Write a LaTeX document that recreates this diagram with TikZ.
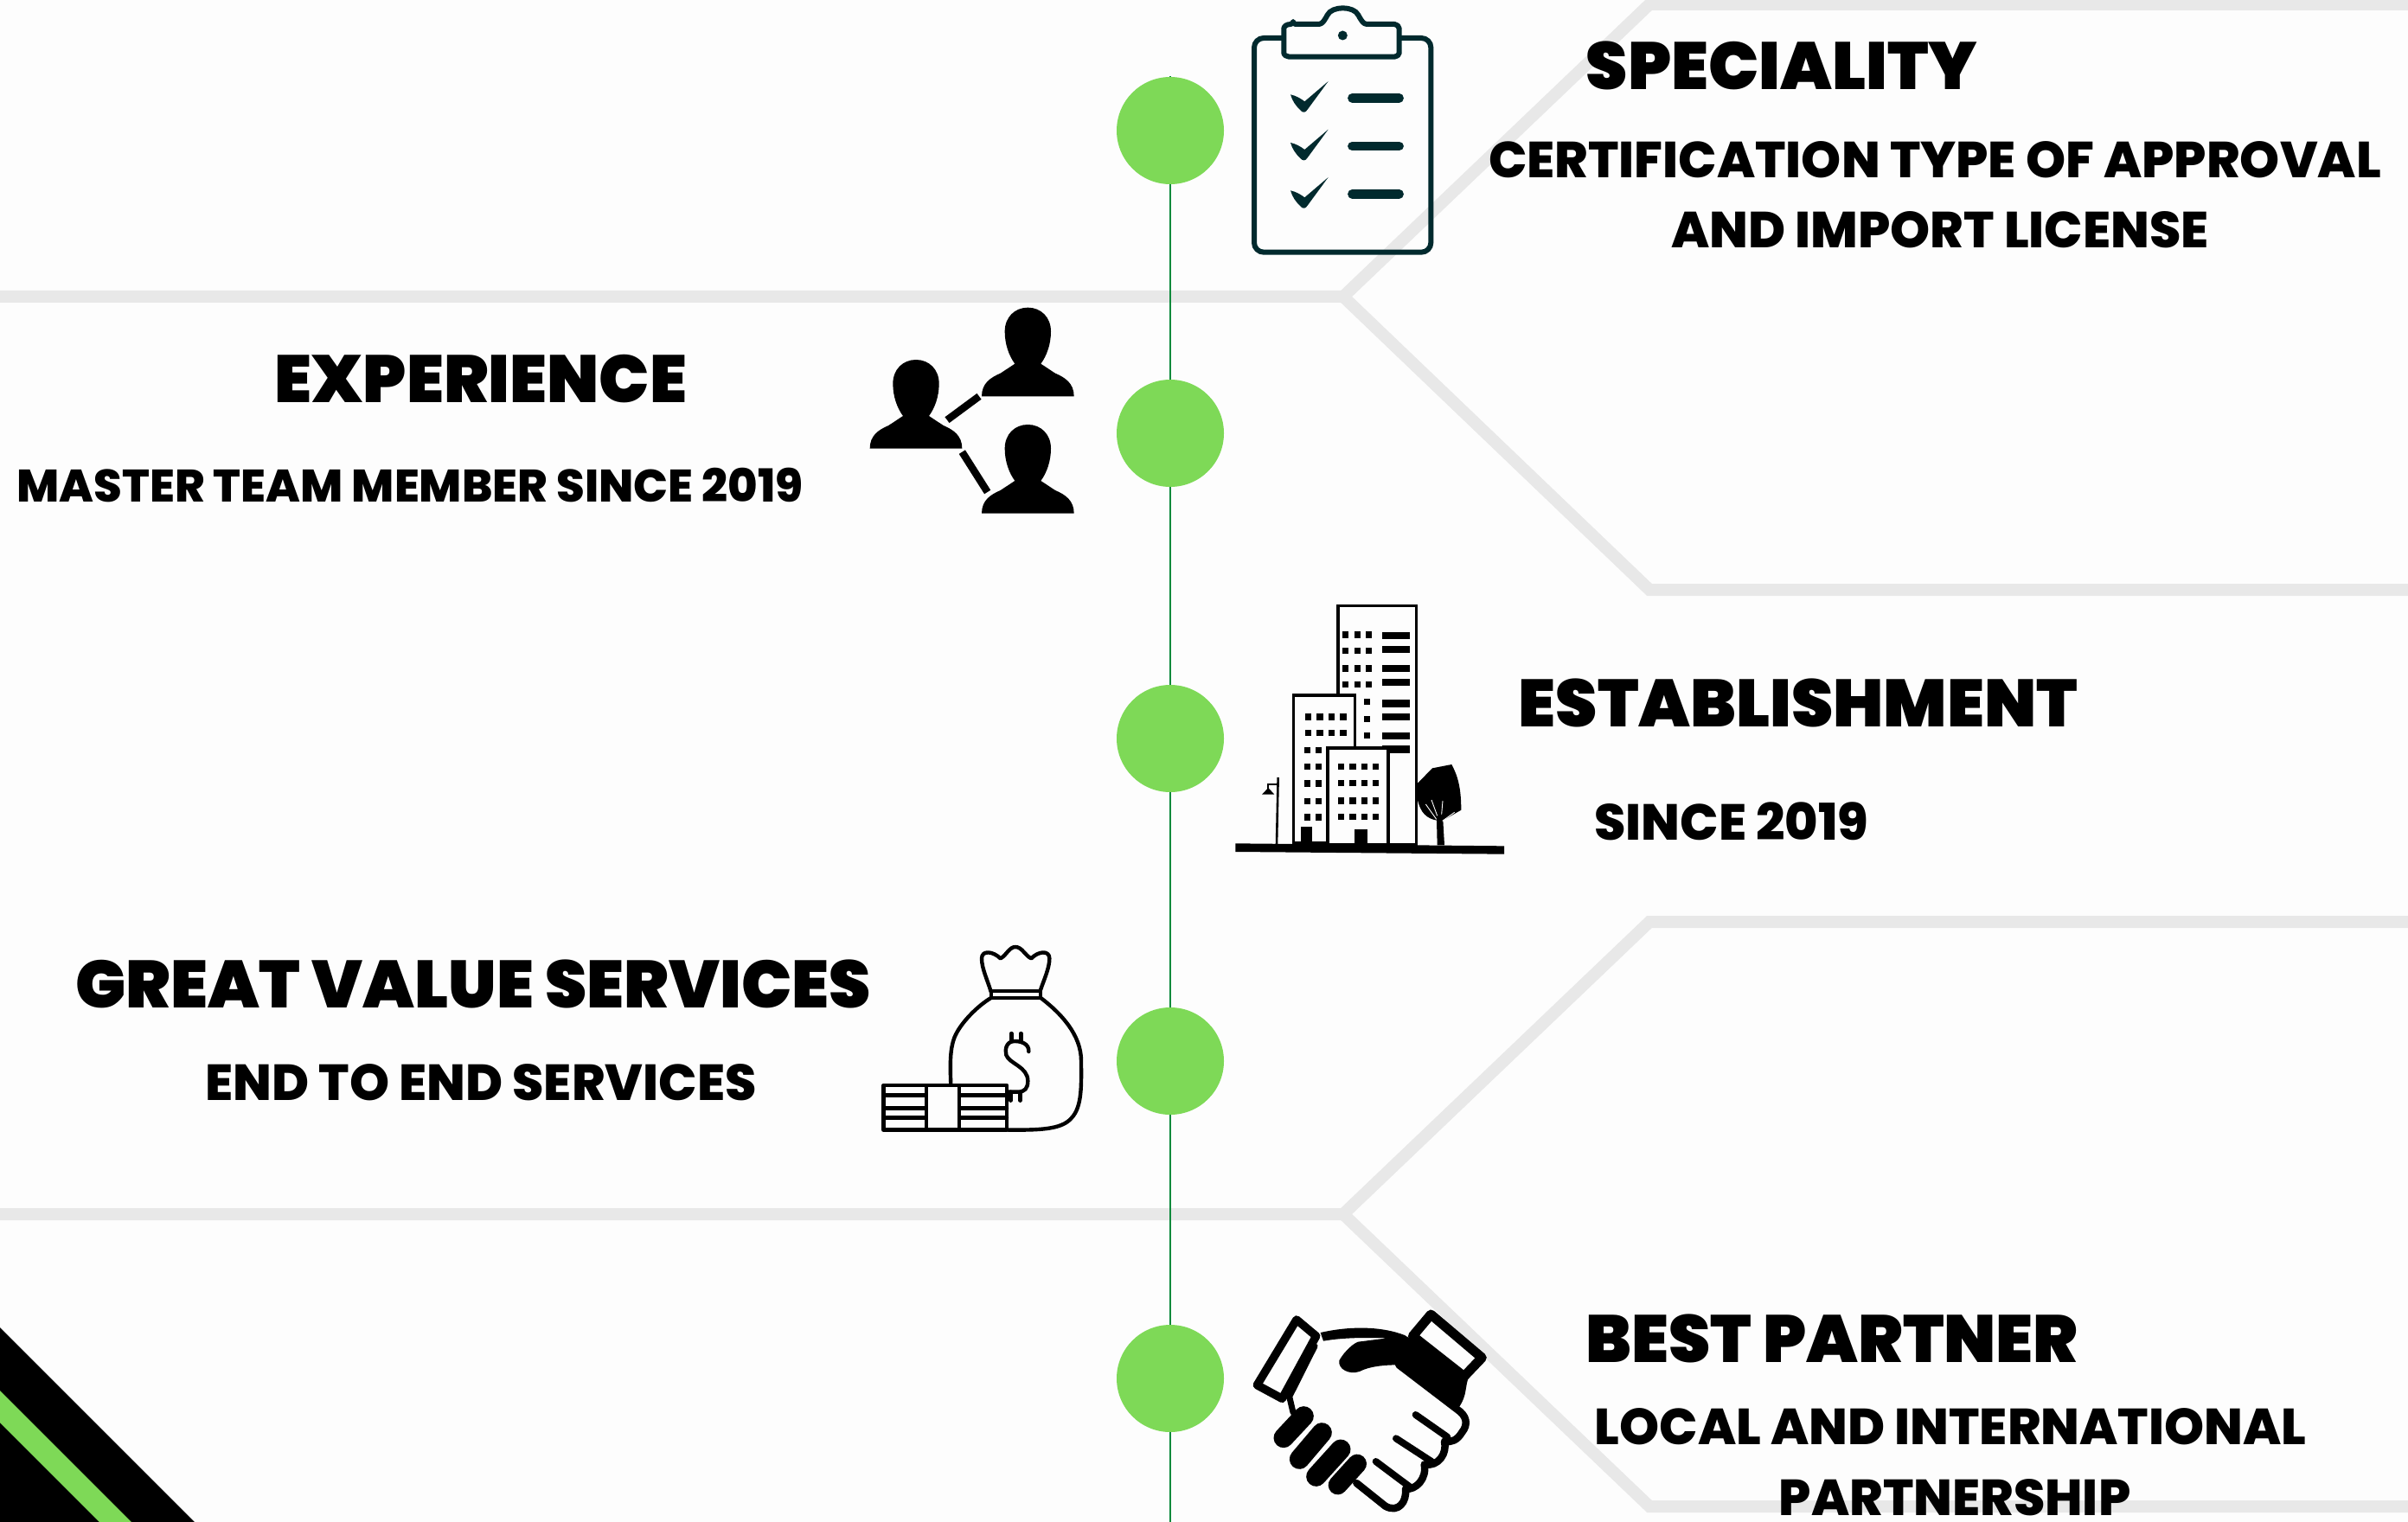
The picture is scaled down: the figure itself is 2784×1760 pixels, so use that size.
\documentclass[tikz,border=0pt]{standalone}
\usepackage{fontspec}
\setmainfont{Poppins}
\newfontfamily\headfont{Poppins Black}
\newfontfamily\subfont{Poppins ExtraBold}
\definecolor{pagebg}{HTML}{FDFDFD}
\definecolor{rulegray}{HTML}{E8E8E8}
\definecolor{dotgreen}{HTML}{7ED957}
\definecolor{linegreen}{HTML}{0A8A3C}
\definecolor{clipink}{HTML}{012A2E}
\tikzset{
  grayrule/.style={draw=rulegray,line width=14pt,line join=miter},
  timeline/.style={draw=linegreen,line width=2.4pt},
  dot/.style={circle,fill=dotgreen,minimum size=124pt,inner sep=0pt},
  headtxt/.style={text=black,inner sep=0pt,font=\headfont\fontsize{77.3}{80}\selectfont},
  subtxt/.style={text=black,inner sep=0pt,font=\subfont\fontsize{58.6}{60}\selectfont},
  subsmall/.style={text=black,inner sep=0pt,font=\subfont\fontsize{52.7}{60}\selectfont},
  zoomed/.style={x=0.33333pt,y=-0.33333pt},
  ink/.style={draw=black,line width=4.4pt,line join=round,line cap=round},
}
\newcommand{\personicon}[2]{%
  \fill[black,shift={(#1,#2)}] (-160,0) .. controls (-160,-45) and (-130,-65) .. (-95,-80)
    -- (-45,-113) .. controls (-65,-140) and (-80,-180) .. (-80,-225)
    .. controls (-80,-275) and (-45,-308) .. (0,-308)
    .. controls (45,-308) and (80,-275) .. (80,-225)
    .. controls (80,-180) and (65,-140) .. (45,-113)
    -- (95,-80) .. controls (130,-65) and (160,-45) .. (160,0) -- cycle;}
\newcommand{\checkicon}[1]{%
  \fill[clipink,shift={(0,#1)}] (276,328) .. controls (295,332) and (312,342) .. (325,352)
    -- (407,282) -- (335,380) .. controls (328,392) and (318,392) .. (310,382)
    .. controls (295,368) and (282,350) .. (276,328) -- cycle;
  \draw[clipink,line width=10.5pt,line cap=round,shift={(0,#1)}] (490,340) -- (653,340);}
\begin{document}
\begin{tikzpicture}[x=1pt,y=-1pt]
\useasboundingbox (0,0) rectangle (2784,1760);
\clip (0,0) rectangle (2784,1760);
\fill[pagebg] (0,0) rectangle (2784,1760);
% gray rules
\draw[grayrule] (-10,343) -- (1553,343) -- (1907,5) -- (2800,5);
\draw[grayrule] (1553,343) -- (1907,682) -- (2800,682);
\draw[grayrule] (-10,1404) -- (1553,1404) -- (1907,1066) -- (2800,1066);
\draw[grayrule] (1553,1404) -- (1907,1742) -- (2800,1742);
% corner
\fill[black] (0,1535) -- (225,1760) -- (0,1760) -- cycle;
\fill[dotgreen] (0,1608) -- (152,1760) -- (115,1760) -- (0,1645) -- cycle;
% timeline
\coordinate (lineTop) at (1353,88);
\coordinate (lineEnd) at (1353,1770);
\node[dot] (c1) at (1353,151) {};
\node[dot] (c2) at (1353,501) {};
\node[dot] (c3) at (1353,854) {};
\node[dot] (c4) at (1353,1227) {};
\node[dot] (c5) at (1353,1594) {};
\draw[timeline] (lineTop) -- (c1) (c1) -- (c2) (c2) -- (c3) (c3) -- (c4) (c4) -- (c5) (c5) -- (lineEnd);
% clipboard
\begin{scope}[zoomed,shift={(1400pt,0pt)}]
\draw[clipink,line width=6pt,rounded corners=11pt] (150,132) rectangle (763,875);
\draw[clipink,fill=pagebg,line width=6pt,line join=round,rounded corners=3pt]
  (285,84) -- (365,84) .. controls (385,84) and (392,72) .. (400,60)
  .. controls (420,20) and (495,20) .. (515,60)
  .. controls (523,72) and (530,84) .. (550,84) -- (628,84)
  .. controls (645,84) and (653,92) .. (653,108) -- (653,175)
  .. controls (653,190) and (645,197) .. (628,197) -- (280,197)
  .. controls (262,197) and (253,190) .. (253,175) -- (253,108)
  .. controls (253,92) and (262,84) .. (285,84) -- cycle;
\fill[clipink] (457,123) circle (5.5pt);
\checkicon{0}\checkicon{167}\checkicon{333}
\end{scope}
% team
\begin{scope}[zoomed,shift={(980pt,-330pt)}]
\personicon{625}{385}
\personicon{625}{791}
\personicon{237}{566}
\draw[black,line width=8.5pt] (345,467) -- (456,385);
\draw[black,line width=8.5pt] (397,578) -- (485,717);
\end{scope}
% buildings
\begin{scope}[zoomed,shift={(1400pt,-680pt)}]
\begin{scope}[draw=black,line width=3.2pt,fill=pagebg]
\filldraw (441,62) rectangle (712,890);
\foreach \yy in {152,200,267,315,388,435,500,547} \fill[black] (595,\yy) rectangle (690,\yy+25);
\foreach \yy in {162,217,279,334} \foreach \xx in {467,508,547} \fill[black] (\xx-11,\yy-11) rectangle (\xx+11,\yy+11);
\foreach \yy in {394,455,511} \fill[black] (530,\yy-11) rectangle (552,\yy+11);
\filldraw (287,372) rectangle (500,885);
\foreach \yy in {447,503} \foreach \xx in {338,378,418,459} \fill[black] (\xx-11,\yy-11) rectangle (\xx+11,\yy+11);
\foreach \yy in {563,619,678,739,795} \foreach \xx in {334,374} \fill[black] (\xx-11,\yy-11) rectangle (\xx+11,\yy+11);
\filldraw (405,555) rectangle (615,890);
\foreach \yy in {620,677,738,793} \foreach \xx in {452,492,532,572} \fill[black] (\xx-11,\yy-11) rectangle (\xx+11,\yy+11);
\end{scope}
\fill[black] (312,828) rectangle (350,890);
\fill[black] (499,838) rectangle (543,892);
\draw[black,line width=2.6pt] (233,657) -- (228,890);
\draw[black,line width=2.2pt] (233,680) -- (198,680) -- (198,700);
\fill[black] (177,716) -- (199,693) -- (220,716) -- cycle;
\fill[black] (712,682) -- (768,625) -- (835,612) .. controls (855,650) and (868,690) .. (868,770)
  -- (805,806) -- (810,892) -- (785,892) -- (783,806) .. controls (750,800) and (725,780) .. (716,730) -- cycle;
\draw[pagebg,line width=0.9pt] (785,790) -- (765,735) (782,802) -- (745,750) (800,785) -- (804,738) (803,808) -- (845,778);
\fill[black] (85,886) -- (1017,895) -- (1017,923) -- (85,915) -- cycle;
\end{scope}
% money
\begin{scope}[zoomed,shift={(1000pt,-1080pt)}]
\draw[ink] (437,200) .. controls (425,160) and (405,120) .. (405,85)
  .. controls (405,55) and (445,60) .. (470,85)
  .. controls (490,75) and (500,45) .. (522,45)
  .. controls (545,45) and (555,75) .. (577,85)
  .. controls (600,60) and (640,55) .. (640,85)
  .. controls (640,120) and (620,160) .. (607,200);
\draw[ink,line width=4pt] (437,198) rectangle (610,222);
\draw[ink] (298,525) .. controls (295,450) and (295,400) .. (310,360)
  .. controls (330,310) and (390,250) .. (437,222);
\draw[ink] (610,222) .. controls (680,275) and (750,350) .. (750,440)
  .. controls (750,520) and (755,600) .. (715,640)
  .. controls (680,680) and (600,680) .. (497,680);
\draw[ink] (568,408) .. controls (570,380) and (540,372) .. (520,372)
  .. controls (490,372) and (485,400) .. (490,420)
  .. controls (500,450) and (565,460) .. (565,510)
  .. controls (565,535) and (555,548) .. (530,548) -- (497,548);
\draw[ink] (508,345) -- (508,372) (541,345) -- (541,372)
  (505,548) -- (505,578) (539,548) -- (539,578);
\draw[ink,fill=pagebg] (64,525) rectangle (492,680);
\draw[ink] (64,560) -- (492,560) (64,605) -- (492,605) (64,637) -- (492,637);
\draw[ink,fill=pagebg] (213,525) rectangle (327,680);
\end{scope}
% handshake
\begin{scope}[zoomed,shift={(1420pt,-1480pt)}]
\fill[black] (320,183) .. controls (420,160) and (530,160) .. (612,192)
  -- (835,335) .. controls (820,370) and (830,400) .. (800,442)
  -- (592,295) .. controls (540,295) and (490,300) .. (455,318)
  .. controls (420,330) and (380,310) .. (385,280)
  .. controls (395,260) and (425,225) .. (450,215)
  -- (552,202) .. controls (470,200) and (400,200) .. (330,212) -- cycle;
\draw[black,fill=pagebg,line width=9.5pt,line join=round] (237,138) -- (305,195) -- (187,412) -- (100,365) -- cycle;
\draw[black,fill=pagebg,line width=11pt,line join=round] (703,120) -- (880,270) -- (818,335) -- (640,195) -- cycle;
\draw[black,line width=7pt,line cap=round] (300,230) -- (212,405) -- (225,460);
\draw[black,line width=23pt,line cap=round] (262,473) -- (192,548);
\draw[black,line width=23pt,line cap=round] (325,530) -- (247,622);
\draw[black,line width=23pt,line cap=round] (390,588) -- (305,682);
\draw[black,line width=22pt,line cap=round] (447,638) -- (380,712);
\draw[black,line width=8.5pt,line cap=round,line join=round] (592,295) -- (795,450)
  .. controls (825,470) and (835,500) .. (810,530)
  .. controls (795,555) and (775,565) .. (750,560)
  .. controls (760,600) and (730,650) .. (680,640)
  .. controls (690,690) and (650,730) .. (615,725)
  .. controls (620,770) and (590,810) .. (545,785)
  -- (445,705);
\draw[black,line width=8pt,line cap=round] (650,468) -- (760,545);
\draw[black,line width=8pt,line cap=round] (582,550) -- (705,630);
\draw[black,line width=8pt,line cap=round] (512,630) -- (635,722);
\end{scope}
% text
\node[headtxt] (t1) at (2060,76) {SPECIALITY};
\node[subtxt] (s1a) at (2237,185) {CERTIFICATION TYPE OF APPROVAL};
\node[subtxt] (s1b) at (2243,266) {AND IMPORT LICENSE};
\node[headtxt] (t2) at (556,438) {EXPERIENCE};
\node[subsmall] (s2) at (474,561) {MASTER TEAM MEMBER SINCE 2019};
\node[headtxt] (t3) at (2079,813) {ESTABLISHMENT};
\node[subtxt] (s3) at (2002,950) {SINCE 2019};
\node[headtxt] (t4) at (547,1138) {GREAT VALUE SERVICES};
\node[subtxt] (s4) at (556,1252) {END TO END SERVICES};
\node[headtxt] (t5) at (2118,1548) {BEST PARTNER};
\node[subtxt] (s5a) at (2255,1650) {LOCAL AND INTERNATIONAL};
\node[subtxt] (s5b) at (2260,1732) {PARTNERSHIP};
\end{tikzpicture}
\end{document}
